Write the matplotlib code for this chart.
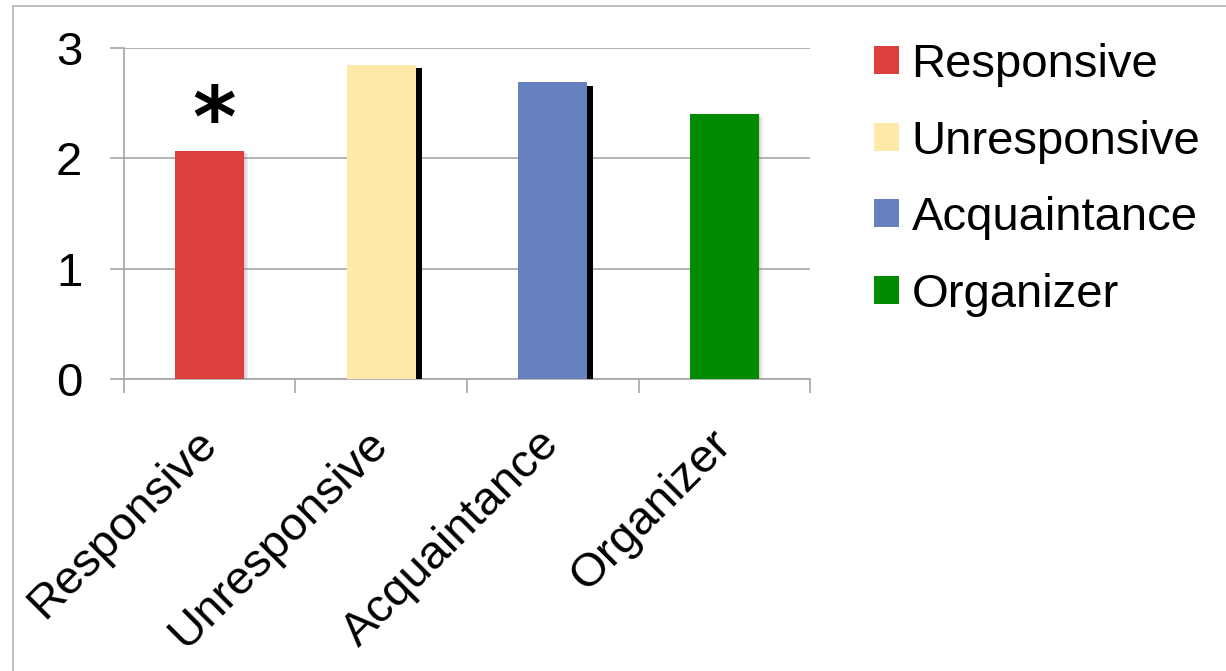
import matplotlib
matplotlib.use("Agg")
import matplotlib.pyplot as plt
import matplotlib.patheffects as pe
from matplotlib.lines import Line2D
from matplotlib.patches import Patch

# Dados do gráfico
categorias = ['Responsive', 'Unresponsive', 'Acquaintance', 'Organizer']
valores = [2.07, 2.85, 2.69, 2.40]
cores = ['#dc403d', '#feeaa8', '#6582be', '#008b00']
sombra_preta = [False, True, True, False]
marcador = ['*', '', '', '']
y_ticks = [0, 1, 2, 3]

plt.rcParams['font.family'] = ['Liberation Sans', 'DejaVu Sans']
cinza = '#a6a6a6'
tamanho = 34

fig = plt.figure(figsize=(12.26, 6.71), dpi=100)
ax = fig.add_axes([0.1011, 0.4352, 0.5596, 0.4933])

x = list(range(len(categorias)))
barras = ax.bar(x, valores, width=0.40, color=cores, zorder=3)

# Sombras: preta deslocada ou cinza suave
for barra, preta in zip(barras, sombra_preta):
    if preta:
        barra.set_path_effects([
            pe.SimplePatchShadow(offset=(4.3, -2.5), shadow_rgbFace='black', alpha=1.0),
            pe.Normal()])
    else:
        barra.set_path_effects([
            pe.SimplePatchShadow(offset=(3, -2), shadow_rgbFace='#888888', alpha=0.12),
            pe.SimplePatchShadow(offset=(2, -1.4), shadow_rgbFace='#888888', alpha=0.15),
            pe.SimplePatchShadow(offset=(1, -0.7), shadow_rgbFace='#888888', alpha=0.2),
            pe.Normal()])

# Asterisco de significância
for xi, v, m in zip(x, valores, marcador):
    if m:
        ax.annotate(m, (xi, v), xytext=(3, -9), textcoords='offset points',
                    ha='center', va='bottom', fontsize=60, fontweight='bold',
                    family='DejaVu Sans')

ax.set_xlim(-0.5, len(categorias) - 0.5)
ax.set_ylim(0, 3)
ax.set_yticks(y_ticks)
ax.set_yticklabels([str(t) for t in y_ticks])
ax.grid(axis='y', color=cinza, linewidth=1.2, zorder=0)

# Ticks nas divisas das categorias, rótulos no centro
ax.set_xticks([i - 0.5 for i in range(len(categorias) + 1)])
ax.set_xticklabels([])
ax.set_xticks(x, minor=True)
ax.set_xticklabels(categorias, minor=True, rotation=45, ha='right', va='center',
                   rotation_mode='anchor', fontsize=tamanho)
ax.tick_params(axis='x', which='major', length=10, width=1.2, color=cinza, direction='out')
ax.tick_params(axis='x', which='minor', length=0, pad=42)
ax.tick_params(axis='y', length=10, width=1.2, color=cinza, labelsize=tamanho, pad=20)

for lado in ['top', 'right']:
    ax.spines[lado].set_visible(False)
for lado in ['left', 'bottom']:
    ax.spines[lado].set_color(cinza)
    ax.spines[lado].set_linewidth(1.2)

# Legenda
handles = [Patch(facecolor=c, edgecolor='none') for c in cores]
fig.legend(handles, categorias, loc='upper left', bbox_to_anchor=(0.713, 0.936),
           frameon=False, fontsize=tamanho, handlelength=0.53, handleheight=0.53,
           handletextpad=0.26, labelspacing=0.69, borderpad=0, borderaxespad=0)

# Moldura em cima e à esquerda
fig.add_artist(Line2D([13 / 1226, 13 / 1226], [0, 1 - 6 / 671], color='#b5b5b5', linewidth=1.2))
fig.add_artist(Line2D([13 / 1226, 1], [1 - 6 / 671, 1 - 6 / 671], color='#b5b5b5', linewidth=1.2))

fig.savefig('out.png', dpi=100)
